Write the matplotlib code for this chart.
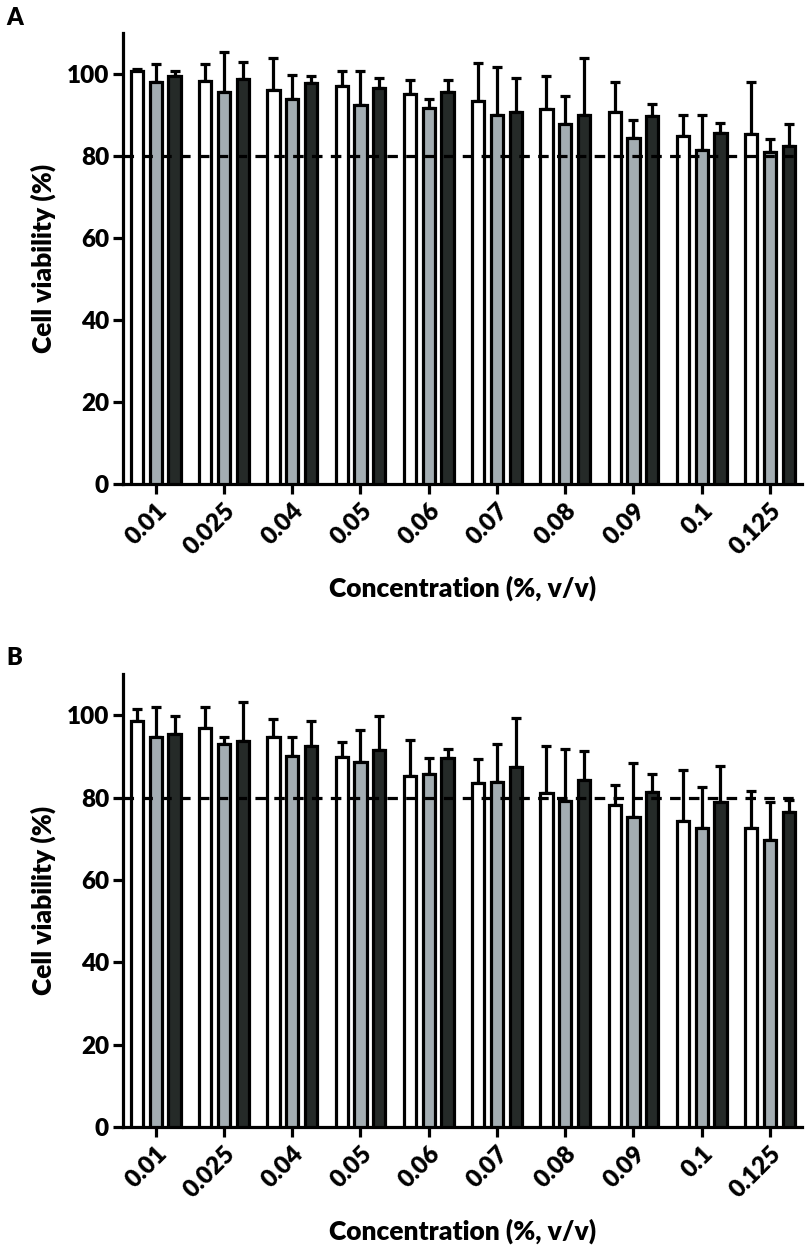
import numpy as np
import matplotlib
matplotlib.use("Agg")
import matplotlib.pyplot as plt

plt.rcParams['font.family'] = ['Lato', 'DejaVu Sans']
WEIGHT = 'heavy'
plt.rcParams['font.weight'] = WEIGHT

concentrations = ["0.01", "0.025", "0.04", "0.05", "0.06", "0.07", "0.08", "0.09", "0.1", "0.125"]

# Panel A: mean values and upper error-bar ends
a_white = [100.7, 98.4, 96.0, 97.1, 95.1, 93.3, 91.5, 90.8, 84.8, 85.4]
a_white_top = [101.2, 102.4, 103.8, 100.8, 98.5, 102.6, 99.5, 98.0, 90.0, 98.1]
a_gray = [98.1, 95.7, 93.8, 92.5, 91.7, 89.9, 87.8, 84.4, 81.4, 80.9]
a_gray_top = [102.4, 105.3, 99.8, 100.8, 93.8, 101.8, 94.6, 88.8, 90.0, 84.1]
a_dark = [99.5, 98.8, 97.9, 96.6, 95.6, 90.7, 90.0, 89.7, 85.5, 82.5]
a_dark_top = [100.7, 102.8, 99.5, 98.9, 98.6, 98.9, 103.8, 92.6, 88.1, 87.8]

# Panel B
b_white = [98.5, 96.8, 94.6, 89.9, 85.2, 83.5, 81.2, 78.3, 74.3, 72.7]
b_white_top = [101.6, 102.1, 99.0, 93.4, 94.0, 89.3, 92.6, 83.0, 86.6, 81.5]
b_gray = [94.6, 93.0, 90.1, 88.6, 85.6, 83.8, 79.1, 75.3, 72.7, 69.8]
b_gray_top = [102.1, 94.7, 94.6, 96.4, 89.6, 93.0, 91.9, 88.4, 82.6, 78.9]
b_dark = [95.5, 93.8, 92.5, 91.6, 89.7, 87.4, 84.2, 81.4, 78.9, 76.4]
b_dark_top = [99.7, 103.2, 98.5, 99.7, 91.9, 99.4, 91.3, 85.7, 87.7, 79.5]

colors = ["#ffffff", "#a3adb2", "#252a28"]
threshold = 80

fig = plt.figure(figsize=(8.06, 12.53), dpi=100)
axA = fig.add_axes([0.1526, 0.6137, 0.8425, 0.36])
axB = fig.add_axes([0.1526, 0.1006, 0.8425, 0.3615])

LW = 2.3
FS = 17.5
LFS = 19


def draw(ax, series, tops):
    x = np.arange(len(concentrations))
    offsets = [-0.275, 0.0, 0.275]
    for (vals, top, col, off) in zip(series, tops, colors, offsets):
        vals = np.array(vals)
        top = np.array(top)
        ax.errorbar(x + off, vals, yerr=[np.zeros_like(vals), top - vals],
                    fmt='none', ecolor='black', elinewidth=LW, capsize=3.5,
                    capthick=LW, zorder=2)
        ax.bar(x + off, vals, width=0.18, color=col, edgecolor='black',
               linewidth=LW, zorder=3)
    ax.axhline(threshold, color='black', lw=LW, ls=(0, (3.3, 2.6)), zorder=4)
    ax.set_xlim(-0.48, 9.47)
    ax.set_ylim(0, 110)
    ax.set_yticks([0, 20, 40, 60, 80, 100])
    ax.set_xticks(x)
    ax.set_xticklabels(concentrations, rotation=45, ha='right',
                       rotation_mode='anchor', fontsize=FS, fontweight=WEIGHT)
    for lab in ax.get_yticklabels():
        lab.set_fontsize(FS)
        lab.set_fontweight(WEIGHT)
    ax.tick_params(axis='both', width=LW, length=7, direction='out', pad=3)
    ax.tick_params(axis='x', pad=4)
    for s in ['top', 'right']:
        ax.spines[s].set_visible(False)
    for s in ['left', 'bottom']:
        ax.spines[s].set_linewidth(LW)
    ax.set_ylabel("Cell viability (%)", fontsize=LFS, fontweight=WEIGHT, labelpad=8)
    ax.set_xlabel("Concentration (%, v/v)", fontsize=LFS, fontweight=WEIGHT, labelpad=12)


draw(axA, [a_white, a_gray, a_dark], [a_white_top, a_gray_top, a_dark_top])
draw(axB, [b_white, b_gray, b_dark], [b_white_top, b_gray_top, b_dark_top])

fig.text(0.008, 0.986, "A", fontsize=17, fontweight=WEIGHT, va='center', ha='left')
fig.text(0.008, 0.475, "B", fontsize=17, fontweight=WEIGHT, va='center', ha='left')

fig.savefig("out.png", dpi=100)
